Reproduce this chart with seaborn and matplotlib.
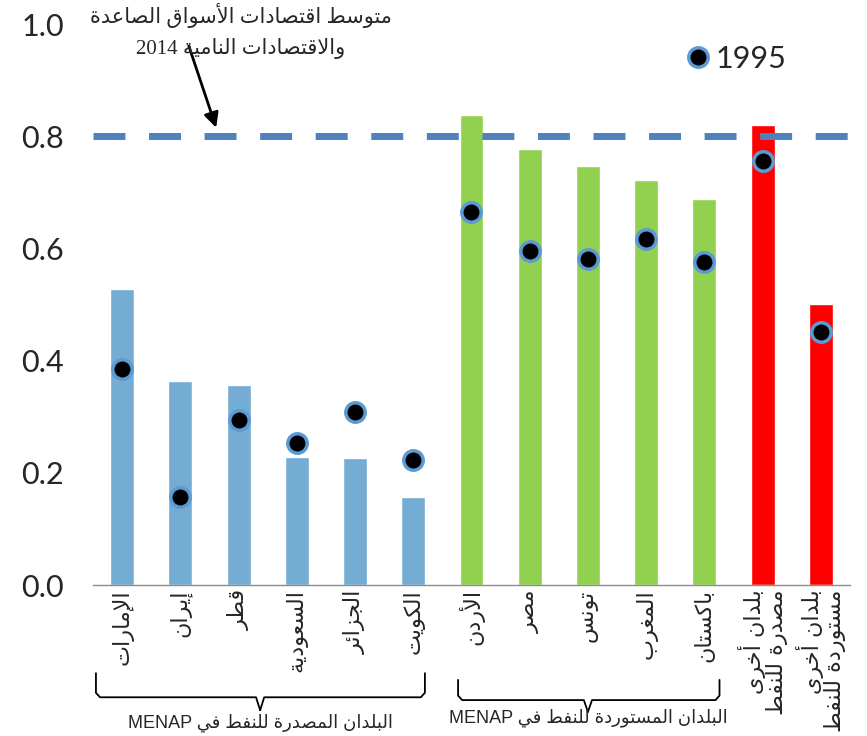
import re
import numpy as np
import pandas as pd
import matplotlib
matplotlib.use('Agg')
import matplotlib.pyplot as plt
import seaborn as sns
from matplotlib.lines import Line2D
from matplotlib.transforms import blended_transform_factory

# data
countries = ['الإمارات', 'إيران', 'قطر', 'السعودية', 'الجزائر', 'الكويت',
             'الأردن', 'مصر', 'تونس', 'المغرب', 'باكستان',
             'بلدان أخرى\nمصدرة للنفط', 'بلدان أخرى\nمستوردة للنفط']
values_2014 = [0.528, 0.364, 0.357, 0.228, 0.226, 0.157,
               0.838, 0.777, 0.747, 0.722, 0.688, 0.820, 0.501]
values_1995 = [0.385, 0.157, 0.294, 0.253, 0.308, 0.223,
               0.665, 0.595, 0.581, 0.617, 0.576, 0.756, 0.451]
groups = ['exporters'] * 6 + ['importers'] * 5 + ['other'] * 2
group_colors = {'exporters': '#75ACD3', 'importers': '#92D050', 'other': '#FF0000'}
em_average = 0.8

annotation_text = 'متوسط اقتصادات الأسواق الصاعدة\nوالاقتصادات النامية 2014'
exporters_label = 'البلدان المصدرة للنفط في MENAP'
importers_label = 'البلدان المستوردة للنفط في MENAP'
legend_label = '1995'


# --- minimal arabic shaping (matplotlib does not shape or reorder RTL text)
ARABIC_LETTERS = 'ءآأؤإئابةتثجحخدذرزسشصضطظعغفقكلمنهوىي'
FORM_COUNTS = [1, 2, 2, 2, 2, 4, 2, 4, 2, 4, 4, 4, 4, 4, 2, 2, 2, 2,
               4, 4, 4, 4, 4, 4, 4, 4, 4, 4, 4, 4, 4, 4, 4, 2, 2, 4]
FORMS = {}
code = 0xFE80
for ch, n in zip(ARABIC_LETTERS, FORM_COUNTS):
    FORMS[ch] = [chr(code + k) for k in range(n)]
    code += n
LAM_ALEF = {'آ': 0xFEF5, 'أ': 0xFEF7, 'إ': 0xFEF9, 'ا': 0xFEFB}


def join_type(tok):
    if isinstance(tok, tuple):
        return 'R'
    if tok in FORMS:
        return {4: 'D', 2: 'R'}.get(len(FORMS[tok]), 'U')
    return None


def shape_line(line):
    tokens = []
    i = 0
    while i < len(line):
        if line[i] == 'ل' and i + 1 < len(line) and line[i + 1] in LAM_ALEF:
            tokens.append(('la', line[i + 1]))
            i += 2
        else:
            tokens.append(line[i])
            i += 1
    out = []
    for k, tok in enumerate(tokens):
        prev = tokens[k - 1] if k > 0 else None
        nxt = tokens[k + 1] if k + 1 < len(tokens) else None
        jt = join_type(tok)
        if jt is None:
            out.append(tok)
            continue
        jp = jt in ('D', 'R') and join_type(prev) == 'D'
        jn = jt == 'D' and join_type(nxt) in ('D', 'R')
        if isinstance(tok, tuple):
            out.append(chr(LAM_ALEF[tok[1]] + (1 if jp else 0)))
        else:
            idx = 3 if (jp and jn) else 1 if jp else 2 if jn else 0
            out.append(FORMS[tok][idx])
    visual = ''.join(out)[::-1]
    return re.sub(r'[A-Za-z0-9]+', lambda m: m.group(0)[::-1], visual)


def ar(text):
    return '\n'.join(shape_line(l) for l in text.split('\n'))


sns.set_style('white')
plt.rcParams['font.family'] = ['Lato', 'DejaVu Sans']

df = pd.DataFrame({'country': countries, 'v2014': values_2014,
                   'v1995': values_1995, 'group': groups})

fig = plt.figure(figsize=(8.67, 7.36), dpi=100)
ax = fig.add_axes([0.1073, 0.205, 0.873, 0.762])

sns.barplot(data=df, x='country', y='v2014', hue='group', palette=group_colors,
            dodge=False, width=0.41, saturation=1, errorbar=None, legend=False, ax=ax)
ax.axhline(em_average, color='#4F81BD', lw=5, dashes=(4.6, 3.4), zorder=1)
sns.stripplot(data=df, x='country', y='v1995', jitter=False, color='black',
              edgecolor='#5B9BD5', linewidth=2.5, size=14, ax=ax, zorder=4)

ax.set_xlim(-0.5, len(countries) - 0.5)
ax.set_ylim(0, 1.0)
ax.set_xlabel('')
ax.set_ylabel('')
ax.set_yticks(np.arange(0, 1.01, 0.2))
ax.set_yticklabels([f'{t:.1f}' for t in np.arange(0, 1.01, 0.2)])
ax.tick_params(axis='y', length=0, pad=21, labelsize=22)

ax.set_xticks(range(len(countries)))
ax.set_xticklabels([ar(c) for c in countries], rotation=90, fontsize=16,
                   family=['DejaVu Sans'], multialignment='right', linespacing=1.0)
ax.set_xticks(np.arange(-0.5, len(countries), 1), minor=True)
ax.tick_params(axis='x', which='major', length=0, pad=3)
ax.tick_params(axis='x', which='minor', length=12, width=1, color='#8C8C8C')

for side in ['left', 'top', 'right']:
    ax.spines[side].set_visible(False)
ax.spines['bottom'].set_color('#8C8C8C')
ax.spines['bottom'].set_linewidth(1)

# legend for the 1995 dots
handle = Line2D([], [], marker='o', ls='', mfc='black', mec='#5B9BD5', mew=2.5, ms=14)
ax.legend(handles=[handle], labels=[legend_label], loc='upper right', frameon=False,
          fontsize=22, handlelength=0.8, handletextpad=0.15, bbox_to_anchor=(0.952, 1.012))

# annotation with arrow to the dashed line
fig.text(0.278, 0.996, ar(annotation_text), ha='center', va='top', fontsize=15,
         family=['Liberation Serif', 'DejaVu Sans'], linespacing=1.6)
ax.annotate('', xy=(1.63, 0.811), xytext=(1.13, 0.966),
            arrowprops=dict(arrowstyle='-|>', color='black', lw=2, mutation_scale=22),
            annotation_clip=False)

# braces under the tick labels
trans = blended_transform_factory(ax.transData, ax.transAxes)


def brace(x0, x1, xm, ytop, ybase, ytip, label, ylabel):
    c = 0.07
    ax.plot([x0, x0, x0 + c, xm - c, xm], [ytop, ybase + 0.008, ybase, ybase, ytip],
            color='black', lw=1.3, transform=trans, clip_on=False)
    ax.plot([x1, x1, x1 - c, xm + c, xm], [ytop, ybase + 0.008, ybase, ybase, ytip],
            color='black', lw=1.3, transform=trans, clip_on=False)
    ax.text(xm, ylabel, ar(label), ha='center', va='center', fontsize=13,
            family=['Liberation Sans', 'DejaVu Sans'], transform=trans, clip_on=False)


brace(-0.45, 5.2, 2.37, -0.157, -0.2, -0.223, exporters_label, -0.246)
brace(5.77, 10.26, 8.0, -0.169, -0.205, -0.226, importers_label, -0.236)

fig.savefig('out.png', dpi=100)
